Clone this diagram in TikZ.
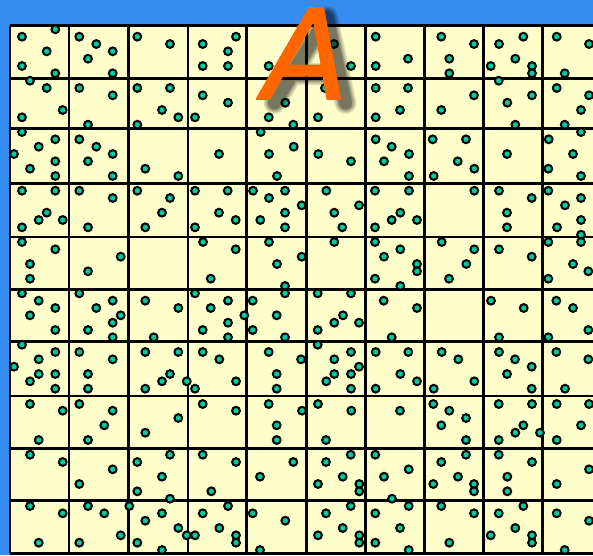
\documentclass[tikz,border=0pt]{standalone}
\usepackage{fontspec}
\newfontfamily\afont[FakeBold=1.4]{DejaVu Sans Oblique}
\definecolor{bgblue}{RGB}{52,140,240}
\definecolor{cellyellow}{RGB}{255,255,204}
\definecolor{dotteal}{RGB}{0,204,153}
\definecolor{aorange}{RGB}{255,102,0}
\tikzset{
  gridline/.style={black, line width=2.8pt, line cap=square},
  dot/.style={draw=black, fill=dotteal, line width=2pt},
  letter/.style={anchor=base, inner sep=0pt},
  shadowstroke/.style={black, line cap=round, line join=round}
}
\begin{document}
\begin{tikzpicture}[x=1pt,y=-1pt]
\useasboundingbox (0,0) rectangle (593,555);
\fill[bgblue] (0,0) rectangle (593,555);
\fill[cellyellow] (10,25.7) rectangle (600,553.3);
\foreach \xx in {10,69,128.3,188,246.5,306.3,365.5,424.3,483.5,542.7}
  \draw[gridline] (\xx,25.7) -- (\xx,553.3);
\foreach \yy in {25.7,78.7,128.3,183.5,237,289.3,341.7,396,448.3,500.7,553.3}
  \draw[gridline] (10,\yy) -- (600,\yy);
\foreach \px/\py in {
22/36.7, 55.3/29.3, 46.7/51.3, 22/66, 55.3/73.3, 79.3/36.7, 96.3/44, 112.7/51.3, 88/58.7, 112.7/73.3, 137.3/36.7, 170/44, 30/80.7, 46.7/88, 62.7/110, 22/117.3, 79.3/88, 112.7/95.3, 88/124.7, 137.3/88, 170/88, 162/110, 178.3/117.3, 195/117.3, 137.3/124.7, 22/132, 55.3/139.3, 79.3/139.3,
202.7/44, 236/36.7, 228/51.3, 202.7/66, 228/66, 268.7/66, 334/44, 351/66, 375.7/36.7, 375.7/66, 202.7/95.3, 228/102.7, 268.7/88, 285.3/102.7, 268.7/117.3, 293.3/124.7, 325/88, 318/117.3, 375.7/88, 400/110, 375.7/117.3, 260.7/132, 375.7/139.3,
408/58.7, 441.3/36.7, 474/44, 449.3/58.7, 449.3/73.3, 499/44, 523.3/36.7, 515.3/58.7, 490.7/66, 532/66, 532/73.3, 556.7/36.7, 589/44, 564.7/73.3, 408/88, 441.3/110, 474/95.3, 498.7/80.7, 532/95.3, 507.3/102.7, 515.3/124.7, 556.7/88, 589/95.3, 581/110, 564.7/124.7, 432.7/139.3, 466/139.3, 548.7/139.3, 581/132,
38.7/146.7, 14/154, 55.3/161.3, 30/168.7, 55.3/176, 96.3/146.7, 112.7/154, 88/161.3, 112.7/176, 145.3/168.7, 178.3/176, 22/190.7, 55.3/190.7, 46.7/212.7, 38.7/220, 62.7/220, 22/227.3, 79.3/190.7, 112.7/198, 88/227.3, 137.3/190.7, 170/198, 162/212.7, 145.3/227.3, 195/190.7, 195/227.3, 22/242, 55.3/249.3, 30/264, 120.7/256.7,
219/154, 269/154, 293.7/146.7, 277/176, 318.3/154, 351/161.3, 391.7/146.7, 384/161.3, 227.7/190.7, 219/212.7, 235.7/220, 253/190.7, 285/190.7, 269/198, 301.7/205.3, 285/212.7, 260.3/220, 285/227.3, 326.3/190.7, 359/205.3, 334.3/212.7, 342.3/227.3, 375/190.7, 391.7/220, 375/227.3, 203/242, 235.7/249.3, 269/242, 277/264, 301.7/256.7, 334.3/242, 375/242, 384/256.7,
409/154, 409/176, 457.7/161.3, 474.3/168.7, 433.7/176, 507/154, 573/154, 548.3/168.7, 581/176, 409/190.7, 400.3/212.7, 417/220, 474.3/190.7, 499/190.7, 531.7/198, 507/212.7, 507/227.3, 548.3/190.7, 581/198, 565/205.3, 581/220, 557/227.3, 581/234.7, 598/212.7, 400.3/249.3, 417/264, 441.7/242, 474.3/249.3, 466.3/264, 499/249.3, 531.7/256.7, 548.3/242, 581/242, 573/264,
30/278.7, 88/271.3, 210.7/278.7, 285/286, 285/293.3, 22/293.3, 38.7/300.7, 55.3/308, 30/315.3, 55.3/330, 79.3/293.3, 112.7/300.7, 96.3/308, 120.7/315.3, 112.7/322.7, 88/330, 112.7/337.3, 145.3/300.7, 178.3/308, 153.7/337.3, 195/293.3, 228/300.7, 210.7/308, 244.3/315.3, 228/322.7, 202.7/330, 228/337.3, 252.7/300.7, 276.7/315.3, 252.7/330, 285/337.3, 22/344.7, 55.3/352, 38.7/359.3, 14/366.7, 38.7/374, 55.3/374, 30/381.3, 55.3/388.7, 79.3/352, 112.7/359.3, 88/374, 88/388.7, 145.3/352, 178.3/352, 170/374, 162/381.3, 145.3/388.7, 186.7/381.3, 195/388.7, 202.7/352, 219.3/359.3, 236/381.3, 268.7/352, 276.7/374, 276.7/388.7,
375/278.7, 417/271.3, 400.3/286, 449/278.7, 548.3/278.7, 588.3/271.3, 317.7/293.3, 351/293.3, 334.3/322.7, 343/315.3, 359/322.7, 317.7/330, 383.7/300.7, 417/308, 391.7/337.3, 491/300.7, 523.7/308, 499/337.3, 556.3/300.7, 573/308, 548.3/337.3, 588.3/330, 317.7/344.7, 301/359.3, 334.3/359.3, 351/352, 359/366.7, 334.3/374, 351/374, 326.3/381.3, 351/388.7, 375.7/352, 408.3/352, 400.3/374, 417/381.3, 375.7/388.7, 441.7/352, 458.3/359.3, 474.3/381.3, 433.7/388.7, 499/352, 515/359.3, 531.7/366.7, 507/374, 531.7/388.7, 556.3/352, 588.3/359.3, 565/388.7,
30/404, 62.7/410.7, 38.7/440, 79.3/404, 112.7/410.7, 104.3/425.3, 88/440, 178.3/418, 145.3/432.7, 30/454.7, 62.7/462, 79.3/484, 112.7/469.3, 137.3/462, 170/454.7, 162/476.7, 137.3/491.3, 170/498.7, 30/506, 62.7/513.3, 38.7/542.7, 88/506, 104.3/513.3, 120.7/535.3, 79.3/542.7, 129.3/506, 162/513.3, 145.3/520.7, 178.3/528, 186.7/535.3, 195/535.3, 137.3/542.7, 162/550,
202.7/404, 236/410.7, 268.7/404, 302/410.7, 276.7/425.3, 276.7/440, 318/404, 351.3/410.7, 326/440, 400/410.7, 202.7/454.7, 236/462, 211.3/491.3, 293.3/462, 260/476.7, 326/462, 350.7/454.7, 342.7/476.7, 318/484, 359.3/484, 359.3/491.3, 375.3/454.7, 384/476.7, 392/498.7, 202.7/513.3, 228/506, 219.3/528, 236/535.3, 236/542.7, 252.7/513.3, 285.3/520.7, 260/550, 326/513.3, 350.7/506, 342.7/528, 318/535.3, 359.3/535.3, 359.3/542.7, 375.3/513.3, 400/528, 375.3/542.7,
433.3/404, 449.3/410.7, 466/418, 441.3/425.3, 466/440, 498.7/404, 532/404, 523.3/425.3, 515.3/432.7, 540/432.7, 498.7/440, 556.7/404, 589/404, 581/425.3, 556.7/440, 408.7/469.3, 466/454.7, 441.3/462, 458/476.7, 433.3/484, 474/484, 474/491.3, 498.7/454.7, 532/462, 507.3/476.7, 507.3/491.3, 589/469.3, 556.7/484, 408.7/506, 408.7/550, 441.3/506, 474/513.3, 449.3/542.7, 498.7/513.3, 523.3/506, 515.3/528, 490.7/535.3, 532/535.3, 532/542.7, 556.7/513.3, 589/520.7, 564.7/550}
  \draw[dot] (\px,\py) circle (3.9pt);
% soft drop shadow of the letter (drawn, not text)
\coordinate (shL) at (274.5,103);
\coordinate (shT) at (327,17);
\coordinate (shR) at (345.5,103);
\coordinate (shC1) at (292.5,74);
\coordinate (shC2) at (339,74);
\foreach \w/\o in {22/0.12,19/0.14,16/0.18,13/0.24}
  \draw[shadowstroke, line width=\w pt, opacity=\o] (shL) -- (shT) -- (shR) (shC1) -- (shC2);
\begin{scope}[line join=round, line cap=round]
\node[letter, text=aorange] (letterA) at (306,99)
  {\afont\fontsize{125}{125}\selectfont A};
\end{scope}
\end{tikzpicture}
\end{document}
